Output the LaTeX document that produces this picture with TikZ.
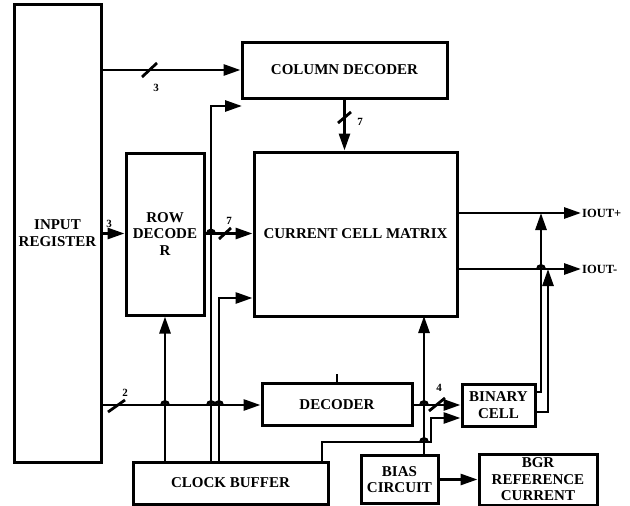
\documentclass[tikz,border=0pt]{standalone}
\usepackage{fontspec}
\setmainfont{Liberation Serif}
\usetikzlibrary{arrows.meta}
\begin{document}
\begin{tikzpicture}[x=1pt,y=-1pt,
  box/.style={draw,line width=3pt,fill=white,align=center,inner sep=0pt,
    font=\bfseries\fontsize{15}{16.5}\selectfont},
  wire/.style={line width=2.8pt},
  arr/.style={wire,-{Triangle[length=17pt,width=11pt]}},
  lbl/.style={font=\bfseries\fontsize{11}{12}\selectfont,inner sep=0pt},
  outlbl/.style={font=\bfseries\fontsize{12.5}{13}\selectfont,inner sep=1pt,anchor=west},
  bump/.style={wire},
]
\useasboundingbox (0,0) rectangle (630,506);

% blocks
\node[box,minimum width=87pt,minimum height=458pt] (ir) at (57.5,233) {INPUT\\REGISTER};
\node[box,minimum width=205pt,minimum height=56pt] (cd) at (344.5,70) {COLUMN DECODER};
\node[box,minimum width=78pt,minimum height=162pt] (rd) at (165,234) {ROW\\DECODE\\R};
\node[box,minimum width=203pt,minimum height=164pt] (mx) at (355.5,234) {CURRENT CELL MATRIX};
\node[box,minimum width=150pt,minimum height=42pt] (dec) at (337,404.5) {DECODER};
\node[box,minimum width=195pt,minimum height=42pt] (cb) at (230.5,483) {CLOCK BUFFER};
\node[box,minimum width=73pt,minimum height=42pt] (bc) at (498.5,405) {BINARY\\CELL};
\node[box,minimum width=77pt,minimum height=48pt] (bias) at (399.5,479.5) {BIAS\\CIRCUIT};
\node[box,minimum width=118pt,minimum height=51pt] (bgr) at (538,479.5) {BGR\\REFERENCE\\CURRENT};

\node[outlbl] (outp) at (581,213) {IOUT+};
\node[outlbl] (outm) at (581,269) {IOUT-};

% routing points
\coordinate (t1) at (211,106);
\coordinate (cdclk) at (242,106);
\coordinate (t2) at (219,298);
\coordinate (t3) at (322,442);
\coordinate (t4) at (431,442);
\coordinate (t5) at (431,418);
\coordinate (t6) at (424,316);
\coordinate (t7) at (541,392);
\coordinate (t8) at (548,412);
\coordinate (y70) at (0,70);
\coordinate (y233) at (0,233.5);
\coordinate (y405) at (0,405);

% input register outputs
\draw[arr] (ir.east |- y70) -- (cd.west |- y70);
\draw[wire] (142,77) -- (157,63);
\node[lbl] (l3a) at (156,88) {3};

\draw[arr] (ir.east |- y233) -- (rd.west |- y233);
\node[lbl] (l3b) at (109,224) {3};

\draw[arr] (ir.east |- y405) -- (dec.west |- y405);
\draw[wire] (108,412) -- (125,400);
\node[lbl] (l2) at (125,393) {2};

% row decoder to matrix
\draw[arr] (rd.east |- y233) -- (mx.west |- y233);
\draw[wire] (219,239) -- (231,228);
\node[lbl] (l7a) at (229,221) {7};

% column decoder to matrix
\draw[arr] (cd.south) -- (cd.south |- mx.north);
\draw[wire] (338,123) -- (351,112);
\node[lbl] (l7b) at (360,122) {7};

% clock buffer lines
\draw[arr] (t1 |- cb.north) -- (t1) -- (cdclk);
\draw[arr] (rd.south |- cb.north) -- (rd.south);
\draw[arr] (t2 |- cb.north) -- (t2) -- (t2 -| mx.west);
\draw[arr] (t3 |- cb.north) -- (t3) -- (t4) -- (t5) -- (bc.west |- t5);

% decoder
\draw[wire] (dec.north) -- ++(0,-8);
\draw[arr] (dec.east |- y405) -- (bc.west |- y405);
\draw[wire] (429,411) -- (445,398);
\node[lbl] (l4) at (439,388) {4};

% bias circuit
\draw[arr] (t6 |- bias.north) -- (t6);
\draw[arr] (bias.east) -- (bgr.west);

% outputs
\draw[arr] (mx.east |- outp.west) -- (outp.west);
\draw[arr] (mx.east |- outm.west) -- (outm.west);
\draw[arr] (bc.east |- t7) -- (t7) -- (t7 |- outp.west);
\draw[arr] (bc.east |- t8) -- (t8) -- (t8 |- outm.west);

% crossing bumps
\foreach \bx/\by in {211/233.5,165/405,211/405,219/405,424/405,424/442,541/269}
  \draw[bump] (\bx-3.5,\by) arc[start angle=180,end angle=360,radius=3.5];
\end{tikzpicture}
\end{document}
